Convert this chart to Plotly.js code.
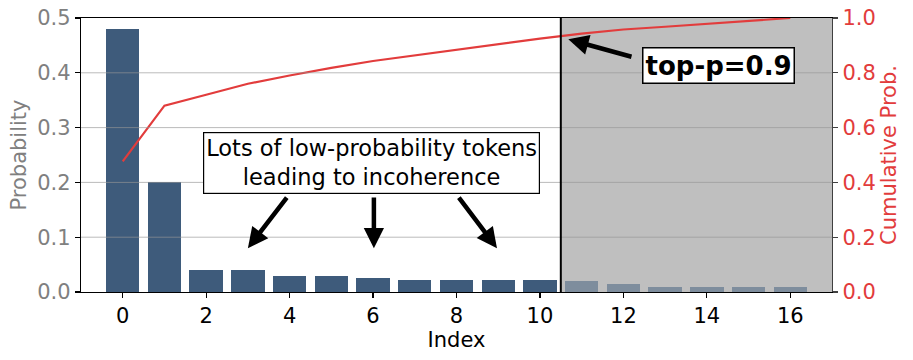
<!DOCTYPE html>
<html>
<head>
<meta charset="utf-8">
<script src="https://cdn.plot.ly/plotly-3.0.1.min.js"></script>
<style>html,body{margin:0;padding:0;background:#fff;}#chart{width:913px;height:360px;}</style>
</head>
<body>
<div id="chart"></div>
<script>
const indices = [0,1,2,3,4,5,6,7,8,9,10,11,12,13,14,15,16];
const probabilities = [0.48,0.20,0.041,0.041,0.030,0.030,0.026,0.021,0.021,0.021,0.021,0.0195,0.0146,0.0098,0.0098,0.0098,0.0098];
const cumulative = [0.477,0.68,0.72,0.76,0.79,0.818,0.843,0.864,0.885,0.905,0.925,0.943,0.958,0.968,0.978,0.989,1.0];
const topP = 0.9;
const cutoff = 10.5;
const leftTicks = [0.0,0.1,0.2,0.3,0.4,0.5];

const barColor = '#3e5b7b';
const red = '#e23c3c';
const font = 'DejaVu Sans, sans-serif';

const opac = indices.map(i => i > cutoff ? 0.5 : 1);

const traces = [
  {type:'bar', x: indices, y: probabilities, width: 0.8,
   marker:{color: barColor, opacity: opac, line:{width:0}}, yaxis:'y', hoverinfo:'skip'},
  {type:'scatter', mode:'lines', x: indices, y: cumulative, yaxis:'y2',
   line:{color: red, width: 2.2}, hoverinfo:'skip'}
];

const shapes = [
  {type:'rect', xref:'x', yref:'paper', x0: cutoff, x1: 17, y0:0, y1:1,
   fillcolor:'#bfbfbf', line:{width:0}, layer:'below'}
];
leftTicks.filter(v => v > 0 && v < 0.5).forEach(v => shapes.push(
  {type:'line', xref:'paper', yref:'y', x0:0, x1:1, y0:v, y1:v,
   line:{color:'rgba(150,150,150,0.65)', width:1}, layer:'above'}));
shapes.push({type:'line', xref:'x', yref:'paper', x0:cutoff, x1:cutoff, y0:0, y1:1,
   line:{color:'#000', width:2}, layer:'above'});

const arrowStyle = {showarrow:true, arrowhead:2, arrowsize:0.9, arrowwidth:4.5, arrowcolor:'#000',
   axref:'x', ayref:'y', text:'', xref:'x', yref:'y'};

const annotations = [
  {xref:'x', yref:'y', x:5.97, y:0.235, showarrow:false,
   text:'Lots of low-probability tokens<br>leading to incoherence', align:'center',
   font:{family:font, size:22.5, color:'#000'}, bgcolor:'#fff', bordercolor:'#000', borderwidth:1.2, borderpad:2},
  Object.assign({}, arrowStyle, {x:3, y:0.08, ax:3.96, ay:0.175}),
  Object.assign({}, arrowStyle, {x:6.02, y:0.08, ax:6.02, ay:0.175}),
  Object.assign({}, arrowStyle, {x:8.97, y:0.08, ax:8.03, ay:0.175}),
  {xref:'x', yref:'y2', x:14.27, y:0.827, showarrow:false,
   text:'<b>top-p=' + topP + '</b>', font:{family:font, size:26, color:'#000'},
   bgcolor:'#fff', bordercolor:'#000', borderwidth:1.5, borderpad:2},
  {xref:'x', yref:'y2', x:10.68, y:0.922, ax:12.23, ay:0.857, axref:'x', ayref:'y2',
   showarrow:true, arrowhead:2, arrowsize:0.9, arrowwidth:4.5, arrowcolor:'#000', text:''}
];

const layout = {
  width:913, height:360,
  margin:{l:81, r:81, t:18, b:68},
  paper_bgcolor:'#fff', plot_bgcolor:'rgba(0,0,0,0)',
  showlegend:false, bargap:0,
  font:{family:font, size:21, color:'#000'},
  xaxis:{range:[-1,17], tickmode:'linear', tick0:0, dtick:2, ticks:'outside', ticklen:5, tickwidth:1.2,
    tickcolor:'#000', showline:true, mirror:true, linecolor:'#000', linewidth:1.2, showgrid:false, zeroline:false,
    tickfont:{family:font, size:21, color:'#000'},
    title:{text:'Index', font:{family:font, size:21, color:'#000'}, standoff:2}},
  yaxis:{range:[0,0.5], tickvals:leftTicks, tickformat:'.1f', ticks:'outside', ticklen:5, tickwidth:1.2,
    tickcolor:'#000', showline:true, linecolor:'#000', linewidth:1.2, showgrid:false, zeroline:false,
    tickfont:{family:font, size:21, color:'#808080'},
    title:{text:'Probability', font:{family:font, size:21, color:'#808080'}, standoff:4}},
  yaxis2:{range:[0,1], overlaying:'y', side:'right', tickmode:'linear', tick0:0, dtick:0.2, tickformat:'.1f',
    ticks:'outside', ticklen:5, tickwidth:1.2, tickcolor:'#404040', showline:true, linecolor:'#404040', linewidth:1.2,
    showgrid:false, zeroline:false,
    tickfont:{family:font, size:21, color:red},
    title:{text:'Cumulative Prob.', font:{family:font, size:21, color:red}, standoff:6}},
  shapes: shapes,
  annotations: annotations
};

Plotly.newPlot('chart', traces, layout, {staticPlot:true, displayModeBar:false});
</script>
</body>
</html>
